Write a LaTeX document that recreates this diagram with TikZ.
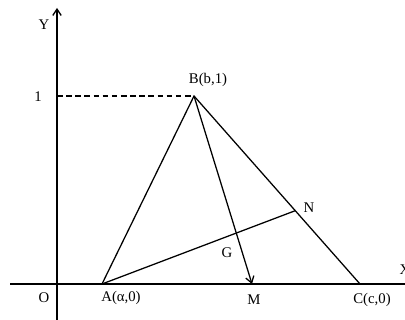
\documentclass[tikz,border=0pt]{standalone}
\usepackage{fontspec}
\setmainfont{Liberation Serif}
\usetikzlibrary{arrows.meta, positioning, calc}

\begin{document}
\begin{tikzpicture}[
    x=0.025cm, y=-0.025cm,
    every node/.style={font=\fontsize{10.5}{12}\selectfont, inner sep=1pt},
    axis/.style={line width=0.9pt},
    side/.style={line width=0.9pt},
    guide/.style={line width=0.9pt, dash pattern=on 4pt off 2.5pt},
    arrow/.style={-{Straight Barb[length=4.5pt, width=6pt]}, line width=0.9pt}
]
\useasboundingbox (0,0) rectangle (405,320);

% --- Points ---
\coordinate (O) at (57,284);
\coordinate (xstart) at (10,284);
\coordinate (xend) at (405,284);
\coordinate (ystart) at (57,322);
\coordinate (yend) at (57,8);
\coordinate (one) at (57,96);
\coordinate (A) at (102,284);
\coordinate (B) at (194,96);
\coordinate (C) at (360,284);
\coordinate (M) at (252,284);
\coordinate (N) at ($(B)!0.61!(C)$);
\coordinate (G) at (intersection of B--M and A--N);

% --- Axes ---
\draw[axis] (xstart) -- (xend);
\draw[arrow] (ystart) -- (yend);
\draw[guide] (one) -- (B);

% --- Triangle ---
\draw[side] (A) -- (B) -- (C);
\draw[side] (A) -- (N);
\draw[arrow] (B) -- (M);

% --- Labels ---
\node (lY) at (44,25) {Y};
\node[anchor=west] (lX) at (398,270) {X};
\node (l1) at (38,97) {1};
\node (lO) at (44,298) {O};
\node (lA) at (121,298) {A(α,0)};
\node (lB) at (208,80) {B(b,1)};
\node (lC) at (372,300) {C(c,0)};
\node (lM) at (254,300) {M};
\node (lN) at (309,208) {N};
\node (lG) at (227,253) {G};
\end{tikzpicture}
\end{document}
